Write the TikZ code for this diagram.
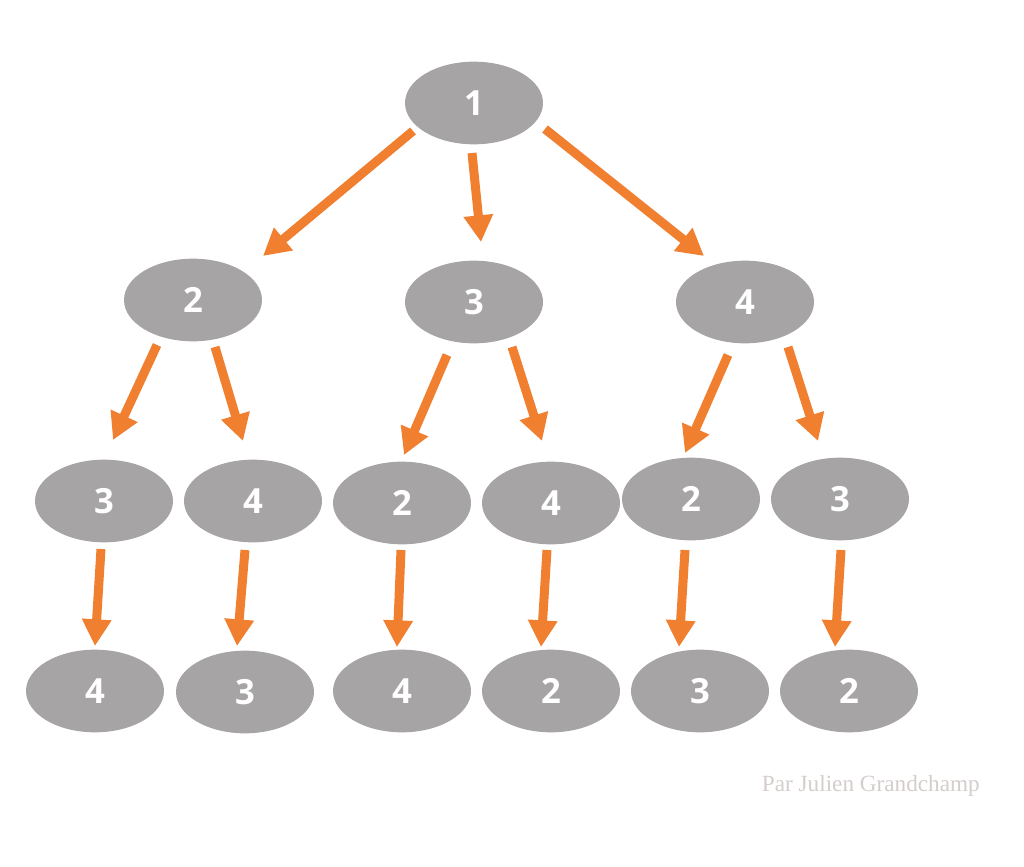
\documentclass[tikz,border=0pt]{standalone}
\usepackage{fontspec}
\setmainfont{Open Sans}
\newfontfamily\sigfont{Liberation Serif}
\usetikzlibrary{arrows.meta,shapes.geometric}
\definecolor{nodegray}{HTML}{A6A4A5}
\definecolor{arroworange}{HTML}{F07F30}
\definecolor{siggray}{HTML}{D3CDCB}
\begin{document}
\begin{tikzpicture}[x=0.75pt,y=-0.75pt,
  treenode/.style={ellipse,fill=nodegray,draw=none,minimum width=103.5pt,minimum height=62pt,inner sep=0pt,
    text=white,font=\fontsize{26}{30}\selectfont\bfseries},
  treearrow/.style={draw=arroworange,line width=6.75pt,-{Triangle[length=20pt,width=21pt]}}]
\useasboundingbox (0,0) rectangle (1024,867);
% level 0
\node[treenode] (n1) at (474,103) {1};
% level 1
\node[treenode] (n2) at (193,300) {2};
\node[treenode] (n3) at (474,302) {3};
\node[treenode] (n4) at (745,302) {4};
% level 2
\node[treenode] (n23) at (104,501) {3};
\node[treenode] (n24) at (253,501) {4};
\node[treenode] (n32) at (402,503) {2};
\node[treenode] (n34) at (551,503) {4};
\node[treenode] (n42) at (691,499) {2};
\node[treenode] (n43) at (840,499) {3};
% level 3
\node[treenode] (n234) at (95,691) {4};
\node[treenode] (n243) at (245,692) {3};
\node[treenode] (n324) at (402,691) {4};
\node[treenode] (n342) at (551,691) {2};
\node[treenode] (n423) at (700,691) {3};
\node[treenode] (n432) at (849,691) {2};
% arrow end points
\coordinate (a1s) at (413,131); \coordinate (a1e) at (263,256);
\coordinate (a2s) at (472,153); \coordinate (a2e) at (481,242);
\coordinate (a3s) at (545,129); \coordinate (a3e) at (704,256);
\coordinate (b1s) at (157,345); \coordinate (b1e) at (113,440);
\coordinate (b2s) at (215,347); \coordinate (b2e) at (243,441);
\coordinate (b3s) at (447,355); \coordinate (b3e) at (404,455);
\coordinate (b4s) at (512,347); \coordinate (b4e) at (542,441);
\coordinate (b5s) at (728,355); \coordinate (b5e) at (685,453);
\coordinate (b6s) at (788,347); \coordinate (b6e) at (818,441);
\coordinate (c1s) at (101,549); \coordinate (c1e) at (95,646);
\coordinate (c2s) at (245,550); \coordinate (c2e) at (237,646);
\coordinate (c3s) at (401,550); \coordinate (c3e) at (397,647);
\coordinate (c4s) at (547,550); \coordinate (c4e) at (541,647);
\coordinate (c5s) at (685,550); \coordinate (c5e) at (679,647);
\coordinate (c6s) at (841,550); \coordinate (c6e) at (835,647);
\foreach \a in {a1,a2,a3,b1,b2,b3,b4,b5,b6,c1,c2,c3,c4,c5,c6}
  \draw[treearrow] (\a s) -- (\a e);
\node[anchor=east,text=siggray,font=\sigfont\fontsize{17.4}{20}\selectfont,inner sep=0pt] (sig) at (980,786) {Par Julien Grandchamp};
\end{tikzpicture}
\end{document}
